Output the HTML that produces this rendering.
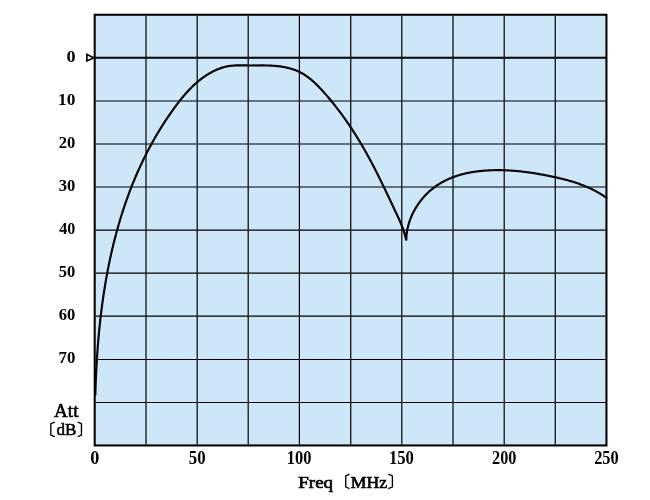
<!DOCTYPE html>
<html><head><meta charset="utf-8"><style>
html,body{margin:0;padding:0;background:#fff;width:650px;height:500px;overflow:hidden}
svg{display:block;will-change:transform}
text{font-family:"Liberation Serif",serif;font-size:18px;fill:#000}
</style></head><body>
<svg width="650" height="500" viewBox="0 0 650 500">
<rect x="94.7" y="14.75" width="511.75" height="430.70" fill="#CDE6F8"/>
<g stroke="#000" stroke-width="1.2" fill="none">
<line x1="146.00" y1="15.75" x2="146.00" y2="444.45"/>
<line x1="197.20" y1="15.75" x2="197.20" y2="444.45"/>
<line x1="248.20" y1="15.75" x2="248.20" y2="444.45"/>
<line x1="299.40" y1="15.75" x2="299.40" y2="444.45"/>
<line x1="350.75" y1="15.75" x2="350.75" y2="444.45"/>
<line x1="401.80" y1="15.75" x2="401.80" y2="444.45"/>
<line x1="453.00" y1="15.75" x2="453.00" y2="444.45"/>
<line x1="504.20" y1="15.75" x2="504.20" y2="444.45"/>
<line x1="555.25" y1="15.75" x2="555.25" y2="444.45"/>
<line x1="95.70" y1="101.00" x2="605.45" y2="101.00"/>
<line x1="95.70" y1="144.00" x2="605.45" y2="144.00"/>
<line x1="95.70" y1="187.00" x2="605.45" y2="187.00"/>
<line x1="95.70" y1="230.20" x2="605.45" y2="230.20"/>
<line x1="95.70" y1="273.20" x2="605.45" y2="273.20"/>
<line x1="95.70" y1="316.20" x2="605.45" y2="316.20"/>
<line x1="95.70" y1="359.50" x2="605.45" y2="359.50"/>
<line x1="95.70" y1="402.50" x2="605.45" y2="402.50"/>
</g>
<line x1="94.7" y1="57.75" x2="606.45" y2="57.75" stroke="#000" stroke-width="2.0"/>
<rect x="94.7" y="14.75" width="511.75" height="430.70" fill="none" stroke="#000" stroke-width="2.05"/>
<path d="M95.32,394.82 L95.34,394.01 L95.36,393.21 L95.39,392.41 L95.41,391.61 L95.44,390.80 L95.46,390.00 L95.49,389.20 L95.51,388.39 L95.54,387.59 L95.57,386.78 L95.59,385.98 L95.62,385.17 L95.65,384.37 L95.68,383.56 L95.71,382.76 L95.74,381.95 L95.78,381.15 L95.81,380.34 L95.84,379.54 L95.88,378.73 L95.91,377.93 L95.94,377.12 L95.98,376.31 L96.02,375.51 L96.05,374.70 L96.09,373.89 L96.13,373.09 L96.17,372.28 L96.21,371.47 L96.25,370.66 L96.29,369.86 L96.33,369.05 L96.37,368.24 L96.42,367.43 L96.46,366.62 L96.50,365.82 L96.55,365.01 L96.60,364.20 L96.64,363.39 L96.69,362.58 L96.74,361.77 L96.79,360.97 L96.84,360.16 L96.89,359.35 L96.94,358.54 L96.99,357.73 L97.04,356.92 L97.09,356.11 L97.15,355.30 L97.20,354.49 L97.26,353.68 L97.31,352.87 L97.37,352.06 L97.43,351.26 L97.49,350.45 L97.55,349.64 L97.61,348.83 L97.67,348.02 L97.73,347.21 L97.79,346.40 L97.86,345.59 L97.92,344.78 L97.98,343.97 L98.05,343.16 L98.12,342.35 L98.18,341.54 L98.25,340.73 L98.32,339.92 L98.39,339.11 L98.46,338.30 L98.53,337.49 L98.60,336.68 L98.68,335.87 L98.75,335.06 L98.83,334.25 L98.90,333.44 L98.98,332.63 L99.06,331.82 L99.13,331.01 L99.21,330.20 L99.29,329.39 L99.37,328.58 L99.45,327.77 L99.54,326.96 L99.62,326.15 L99.70,325.34 L99.79,324.53 L99.88,323.72 L99.96,322.91 L100.05,322.10 L100.14,321.29 L100.23,320.48 L100.32,319.67 L100.41,318.87 L100.50,318.06 L100.60,317.25 L100.69,316.44 L100.79,315.63 L100.88,314.82 L100.98,314.01 L101.08,313.20 L101.18,312.40 L101.28,311.59 L101.38,310.78 L101.48,309.97 L101.58,309.16 L101.68,308.36 L101.79,307.55 L101.89,306.74 L102.00,305.93 L102.11,305.12 L102.22,304.32 L102.33,303.51 L102.44,302.70 L102.55,301.90 L102.66,301.09 L102.77,300.28 L102.89,299.48 L103.00,298.67 L103.12,297.86 L103.24,297.06 L103.36,296.25 L103.48,295.45 L103.60,294.64 L103.72,293.84 L103.84,293.03 L103.96,292.23 L104.09,291.42 L104.21,290.62 L104.34,289.81 L104.47,289.01 L104.60,288.20 L104.73,287.40 L104.86,286.60 L104.99,285.79 L105.12,284.99 L105.26,284.19 L105.39,283.38 L105.53,282.58 L105.66,281.78 L105.80,280.98 L105.94,280.17 L106.08,279.37 L106.22,278.57 L106.37,277.77 L106.51,276.97 L106.66,276.17 L106.80,275.37 L106.95,274.57 L107.10,273.77 L107.25,272.97 L107.40,272.17 L107.55,271.37 L107.70,270.57 L107.86,269.77 L108.01,268.97 L108.17,268.17 L108.32,267.37 L108.48,266.58 L108.64,265.78 L108.80,264.98 L108.97,264.18 L109.13,263.39 L109.29,262.59 L109.46,261.80 L109.62,261.00 L109.79,260.20 L109.96,259.41 L110.13,258.61 L110.30,257.82 L110.48,257.03 L110.65,256.23 L110.82,255.44 L111.00,254.65 L111.18,253.85 L111.36,253.06 L111.54,252.27 L111.72,251.48 L111.90,250.68 L112.08,249.89 L112.27,249.10 L112.45,248.31 L112.64,247.52 L112.83,246.73 L113.02,245.94 L113.21,245.15 L113.40,244.36 L113.59,243.57 L113.79,242.79 L113.98,242.00 L114.18,241.21 L114.38,240.42 L114.58,239.64 L114.78,238.85 L114.98,238.07 L115.19,237.28 L115.39,236.50 L115.60,235.71 L115.80,234.93 L116.01,234.14 L116.22,233.36 L116.43,232.58 L116.65,231.79 L116.86,231.01 L117.07,230.23 L117.29,229.45 L117.51,228.67 L117.73,227.89 L117.95,227.11 L118.17,226.33 L118.39,225.55 L118.62,224.77 L118.84,223.99 L119.07,223.21 L119.30,222.44 L119.53,221.66 L119.76,220.88 L119.99,220.11 L120.23,219.33 L120.46,218.56 L120.70,217.78 L120.94,217.01 L121.18,216.23 L121.42,215.46 L121.66,214.69 L121.90,213.92 L122.15,213.14 L122.39,212.37 L122.64,211.60 L122.89,210.83 L123.14,210.06 L123.39,209.29 L123.65,208.52 L123.90,207.76 L124.16,206.99 L124.42,206.22 L124.67,205.45 L124.93,204.69 L125.20,203.92 L125.46,203.16 L125.72,202.39 L125.99,201.63 L126.26,200.87 L126.53,200.10 L126.80,199.34 L127.07,198.58 L127.34,197.82 L127.62,197.06 L127.90,196.30 L128.17,195.54 L128.45,194.78 L128.73,194.02 L129.02,193.26 L129.30,192.50 L129.59,191.75 L129.87,190.99 L130.16,190.23 L130.45,189.48 L130.74,188.72 L131.04,187.97 L131.33,187.22 L131.63,186.46 L131.92,185.71 L132.22,184.96 L132.52,184.21 L132.82,183.46 L133.13,182.71 L133.43,181.96 L133.74,181.21 L134.05,180.47 L134.36,179.72 L134.67,178.97 L134.98,178.23 L135.30,177.48 L135.61,176.74 L135.93,175.99 L136.25,175.25 L136.57,174.51 L136.89,173.76 L137.22,173.02 L137.54,172.28 L137.87,171.54 L138.20,170.80 L138.53,170.06 L138.86,169.32 L139.19,168.59 L139.53,167.85 L139.87,167.11 L140.20,166.38 L140.54,165.64 L140.89,164.91 L141.23,164.18 L141.57,163.44 L141.92,162.71 L142.27,161.98 L142.62,161.25 L142.97,160.52 L143.32,159.79 L143.68,159.06 L144.03,158.33 L144.39,157.61 L144.75,156.88 L145.11,156.16 L145.47,155.43 L145.84,154.71 L146.21,153.98 L146.57,153.26 L146.94,152.54 L147.31,151.82 L147.69,151.10 L148.06,150.38 L148.44,149.66 L148.82,148.94 L149.20,148.23 L149.58,147.51 L149.96,146.79 L150.35,146.08 L150.73,145.37 L151.12,144.65 L151.51,143.94 L151.90,143.23 L152.29,142.52 L152.69,141.81 L153.09,141.10 L153.48,140.39 L153.88,139.69 L154.28,138.98 L154.69,138.28 L155.09,137.57 L155.50,136.87 L155.91,136.17 L156.32,135.46 L156.73,134.76 L157.14,134.06 L157.56,133.36 L157.98,132.67 L158.39,131.97 L158.81,131.27 L159.24,130.58 L159.66,129.89 L160.08,129.19 L160.51,128.50 L160.94,127.81 L161.37,127.12 L161.80,126.43 L162.24,125.74 L162.67,125.05 L163.11,124.37 L163.55,123.68 L163.99,123.00 L164.43,122.32 L164.88,121.63 L165.32,120.95 L165.77,120.27 L166.22,119.59 L166.67,118.92 L167.13,118.24 L167.58,117.56 L168.04,116.89 L168.50,116.22 L168.96,115.54 L169.42,114.87 L169.88,114.20 L170.35,113.53 L170.81,112.87 L171.28,112.20 L171.75,111.53 L172.22,110.87 L172.70,110.20 L173.17,109.54 L173.65,108.88 L174.13,108.22 L174.61,107.56 L175.10,106.90 L175.58,106.25 L176.07,105.59 L176.56,104.94 L177.05,104.29 L177.54,103.64 L178.03,102.99 L178.53,102.34 L179.03,101.70 L179.53,101.06 L180.04,100.42 L180.54,99.78 L181.05,99.14 L181.57,98.51 L182.08,97.88 L182.60,97.25 L183.12,96.63 L183.64,96.01 L184.17,95.39 L184.70,94.77 L185.23,94.16 L185.76,93.55 L186.30,92.94 L186.84,92.34 L187.39,91.74 L187.93,91.15 L188.48,90.55 L189.04,89.96 L189.60,89.38 L190.16,88.80 L190.72,88.22 L191.29,87.65 L191.86,87.08 L192.44,86.52 L193.02,85.96 L193.61,85.40 L194.19,84.85 L194.79,84.31 L195.38,83.77 L195.98,83.23 L196.59,82.70 L197.19,82.17 L197.81,81.65 L198.42,81.14 L199.05,80.63 L199.67,80.12 L200.30,79.63 L200.94,79.13 L201.58,78.64 L202.22,78.16 L202.87,77.69 L203.53,77.22 L204.19,76.75 L204.85,76.30 L205.52,75.84 L206.20,75.40 L206.88,74.96 L207.56,74.53 L208.25,74.10 L208.95,73.69 L209.65,73.27 L210.35,72.87 L211.06,72.47 L211.78,72.08 L212.50,71.70 L213.23,71.33 L213.96,70.96 L214.69,70.61 L215.43,70.26 L216.18,69.93 L216.92,69.60 L217.68,69.29 L218.43,68.98 L219.19,68.69 L219.95,68.40 L220.72,68.13 L221.49,67.87 L222.26,67.62 L223.04,67.39 L223.82,67.17 L224.60,66.96 L225.39,66.76 L226.18,66.58 L226.97,66.41 L227.76,66.25 L228.56,66.11 L229.35,65.99 L230.15,65.88 L230.96,65.78 L231.76,65.70 L232.56,65.63 L233.37,65.57 L234.18,65.52 L234.99,65.48 L235.80,65.44 L236.61,65.42 L237.42,65.40 L238.24,65.39 L239.05,65.38 L239.86,65.38 L240.68,65.38 L241.49,65.39 L242.31,65.40 L243.12,65.40 L243.93,65.41 L244.75,65.42 L245.56,65.43 L246.38,65.44 L247.19,65.44 L248.00,65.45 L248.81,65.46 L249.63,65.47 L262.06,65.43 L262.70,65.43 L263.34,65.43 L263.99,65.44 L264.63,65.44 L265.27,65.45 L265.92,65.46 L266.56,65.48 L267.21,65.49 L267.85,65.51 L268.49,65.53 L269.14,65.55 L269.78,65.58 L270.43,65.60 L271.07,65.63 L271.72,65.67 L272.36,65.70 L273.00,65.74 L273.65,65.79 L274.29,65.84 L274.94,65.89 L275.58,65.94 L276.23,66.00 L276.87,66.06 L277.52,66.13 L278.16,66.20 L278.81,66.28 L279.45,66.36 L280.09,66.44 L280.73,66.53 L281.38,66.63 L282.02,66.73 L282.66,66.83 L283.30,66.94 L283.93,67.05 L284.57,67.17 L285.20,67.30 L285.84,67.43 L286.47,67.56 L287.10,67.70 L287.73,67.85 L288.35,68.00 L288.98,68.16 L289.60,68.32 L290.22,68.49 L290.83,68.67 L291.45,68.85 L292.06,69.03 L292.67,69.23 L293.28,69.43 L293.88,69.64 L294.48,69.85 L295.07,70.07 L295.67,70.30 L296.26,70.53 L296.84,70.77 L297.43,71.02 L298.01,71.27 L298.58,71.53 L299.15,71.80 L299.72,72.08 L300.28,72.36 L300.84,72.65 L301.39,72.95 L301.94,73.25 L302.49,73.56 L303.03,73.88 L303.57,74.20 L304.11,74.53 L304.64,74.87 L305.17,75.21 L305.69,75.56 L306.21,75.92 L306.73,76.28 L307.24,76.64 L307.75,77.01 L308.26,77.39 L308.77,77.77 L309.27,78.16 L309.77,78.55 L310.26,78.95 L310.75,79.35 L311.24,79.76 L311.73,80.17 L312.21,80.58 L312.69,81.00 L313.17,81.42 L313.65,81.85 L314.12,82.28 L314.59,82.72 L315.06,83.15 L315.52,83.59 L315.98,84.04 L316.45,84.49 L316.90,84.94 L317.36,85.39 L317.81,85.85 L318.27,86.31 L318.72,86.77 L319.17,87.23 L319.61,87.70 L320.06,88.17 L320.50,88.64 L320.94,89.11 L321.38,89.58 L321.82,90.06 L322.25,90.54 L322.69,91.01 L323.12,91.49 L323.56,91.97 L323.99,92.46 L324.42,92.94 L324.84,93.42 L325.27,93.91 L325.70,94.39 L326.12,94.88 L326.55,95.36 L326.97,95.85 L327.39,96.34 L327.81,96.83 L328.23,97.32 L328.64,97.81 L329.06,98.30 L329.48,98.80 L329.89,99.29 L330.30,99.78 L330.71,100.28 L331.12,100.78 L331.53,101.27 L331.94,101.77 L332.35,102.27 L332.75,102.77 L333.16,103.27 L333.56,103.77 L333.96,104.27 L334.36,104.77 L334.76,105.28 L335.16,105.78 L335.56,106.29 L335.95,106.79 L336.35,107.30 L336.74,107.81 L337.13,108.31 L337.53,108.82 L337.92,109.33 L338.31,109.84 L338.69,110.35 L339.08,110.87 L339.47,111.38 L339.85,111.89 L340.24,112.41 L340.62,112.92 L341.00,113.44 L341.38,113.95 L341.76,114.47 L342.14,114.99 L342.52,115.51 L342.89,116.03 L343.27,116.55 L343.64,117.07 L344.02,117.59 L344.39,118.11 L344.76,118.63 L345.13,119.16 L345.50,119.68 L345.87,120.20 L346.23,120.73 L346.60,121.26 L346.97,121.78 L347.33,122.31 L347.69,122.84 L348.05,123.37 L348.42,123.90 L348.78,124.43 L349.13,124.96 L349.49,125.49 L349.85,126.02 L350.21,126.55 L350.56,127.09 L350.91,127.62 L351.27,128.16 L351.62,128.69 L351.97,129.23 L352.32,129.76 L352.67,130.30 L353.02,130.84 L353.37,131.38 L353.71,131.92 L354.06,132.46 L354.40,133.00 L354.75,133.54 L355.09,134.08 L355.43,134.62 L355.77,135.16 L356.11,135.71 L356.45,136.25 L356.79,136.80 L357.13,137.34 L357.46,137.89 L357.80,138.43 L358.13,138.98 L358.47,139.53 L358.80,140.07 L359.13,140.62 L359.46,141.17 L359.79,141.72 L360.12,142.27 L360.45,142.82 L360.78,143.37 L361.11,143.92 L361.43,144.47 L361.76,145.03 L362.08,145.58 L362.41,146.13 L362.73,146.69 L363.05,147.24 L363.37,147.80 L363.69,148.35 L364.01,148.91 L364.33,149.47 L364.65,150.02 L364.97,150.58 L365.28,151.14 L365.60,151.70 L365.91,152.26 L366.23,152.81 L366.54,153.37 L366.85,153.93 L367.17,154.50 L367.48,155.06 L367.79,155.62 L368.10,156.18 L368.40,156.74 L368.71,157.31 L369.02,157.87 L369.33,158.43 L369.63,159.00 L369.94,159.56 L370.24,160.13 L370.55,160.69 L370.85,161.26 L371.15,161.83 L371.45,162.39 L371.75,162.96 L372.05,163.53 L372.35,164.10 L372.65,164.66 L372.95,165.23 L373.25,165.80 L373.54,166.37 L373.84,166.94 L374.14,167.51 L374.43,168.08 L374.72,168.65 L375.02,169.23 L375.31,169.80 L375.60,170.37 L375.90,170.94 L376.19,171.51 L376.48,172.09 L376.77,172.66 L377.06,173.23 L377.35,173.81 L377.64,174.38 L377.92,174.96 L378.21,175.53 L378.50,176.11 L378.79,176.68 L379.07,177.26 L379.36,177.83 L379.64,178.41 L379.93,178.98 L380.21,179.56 L380.50,180.14 L380.78,180.71 L381.06,181.29 L381.35,181.87 L381.63,182.44 L381.91,183.02 L382.19,183.60 L382.47,184.18 L382.75,184.76 L383.03,185.33 L383.31,185.91 L383.59,186.49 L383.87,187.07 L384.15,187.65 L384.43,188.23 L384.71,188.81 L384.99,189.39 L385.26,189.97 L385.54,190.54 L385.82,191.12 L386.09,191.70 L386.37,192.28 L386.65,192.86 L386.92,193.44 L387.20,194.02 L387.48,194.60 L387.75,195.18 L388.03,195.76 L388.30,196.34 L388.58,196.93 L388.85,197.51 L389.13,198.09 L389.40,198.67 L389.67,199.25 L389.95,199.83 L390.22,200.41 L390.49,200.99 L390.77,201.57 L391.04,202.15 L391.32,202.73 L391.59,203.31 L391.86,203.89 L392.13,204.47 L392.41,205.05 L392.68,205.63 L392.95,206.21 L393.23,206.79 L393.50,207.37 L393.77,207.95 L394.04,208.53 L394.32,209.11 L394.59,209.69 L394.86,210.27 L395.13,210.85 L395.41,211.43 L395.68,212.01 L395.95,212.59 L396.22,213.17 L396.50,213.75 L396.77,214.33 L397.04,214.91 L397.31,215.49 L397.58,216.07 L397.85,216.65 L398.12,217.23 L398.38,217.81 L398.65,218.39 L398.91,218.97 L399.18,219.56 L399.44,220.14 L399.69,220.72 L399.95,221.31 L400.20,221.89 L400.46,222.48 L400.71,223.07 L400.95,223.65 L401.20,224.24 L401.44,224.83 L401.68,225.43 L401.91,226.02 L402.14,226.61 L402.37,227.21 L402.60,227.80 L402.82,228.40 L403.04,229.00 L403.25,229.60 L403.46,230.20 L403.67,230.81 L403.87,231.42 L404.06,232.02 L404.26,232.63 L404.44,233.24 L404.63,233.86 L404.80,234.47 L404.98,235.09 L405.14,235.71 L405.30,236.33 L405.46,236.96 L405.61,237.58 L405.75,238.21 L405.89,238.84 L406.03,239.48 L406.30,239.65 L406.31,238.84 L406.34,238.03 L406.39,237.22 L406.44,236.41 L406.50,235.60 L406.58,234.80 L406.67,233.99 L406.77,233.19 L406.87,232.39 L407.00,231.59 L407.13,230.79 L407.27,229.99 L407.42,229.20 L407.59,228.40 L407.76,227.61 L407.94,226.82 L408.14,226.04 L408.34,225.25 L408.56,224.47 L408.78,223.69 L409.02,222.91 L409.26,222.14 L409.52,221.37 L409.78,220.60 L410.06,219.83 L410.34,219.07 L410.63,218.31 L410.94,217.55 L411.25,216.80 L411.57,216.05 L411.90,215.31 L412.24,214.57 L412.58,213.83 L412.94,213.09 L413.31,212.36 L413.68,211.64 L414.06,210.92 L414.45,210.20 L414.85,209.49 L415.26,208.78 L415.67,208.07 L416.10,207.37 L416.53,206.68 L416.96,205.99 L417.41,205.31 L417.87,204.63 L418.33,203.95 L418.80,203.28 L419.27,202.62 L419.76,201.96 L420.25,201.31 L420.75,200.66 L421.25,200.02 L421.76,199.38 L422.28,198.76 L422.81,198.13 L423.34,197.52 L423.88,196.90 L424.42,196.30 L424.97,195.70 L425.53,195.11 L426.10,194.53 L426.67,193.95 L427.24,193.38 L427.82,192.81 L428.41,192.26 L429.00,191.71 L429.60,191.16 L430.21,190.63 L430.82,190.10 L431.43,189.58 L432.05,189.07 L432.68,188.56 L433.31,188.07 L433.94,187.58 L434.58,187.10 L435.23,186.62 L435.88,186.16 L436.53,185.70 L437.19,185.26 L437.86,184.81 L438.52,184.38 L439.20,183.96 L439.87,183.54 L440.55,183.13 L441.24,182.73 L441.93,182.34 L442.62,181.95 L443.32,181.57 L444.02,181.20 L444.72,180.84 L445.43,180.48 L446.14,180.13 L446.86,179.79 L447.58,179.46 L448.30,179.13 L449.03,178.81 L449.76,178.49 L450.49,178.19 L451.23,177.89 L451.97,177.59 L452.71,177.31 L453.45,177.03 L454.20,176.75 L454.95,176.49 L455.71,176.23 L456.47,175.97 L457.23,175.73 L457.99,175.49 L458.75,175.25 L459.52,175.02 L460.29,174.80 L461.06,174.58 L461.84,174.37 L462.61,174.17 L463.39,173.97 L464.17,173.78 L464.96,173.59 L465.74,173.41 L466.53,173.23 L467.32,173.06 L468.11,172.90 L468.90,172.74 L469.70,172.59 L470.49,172.44 L471.29,172.30 L472.09,172.16 L472.89,172.03 L473.69,171.90 L474.49,171.78 L475.30,171.66 L476.10,171.55 L476.91,171.44 L477.72,171.34 L478.52,171.24 L479.33,171.14 L480.14,171.06 L480.95,170.97 L481.76,170.89 L482.58,170.82 L483.39,170.75 L484.20,170.68 L485.01,170.62 L485.83,170.56 L486.64,170.51 L487.45,170.46 L488.27,170.41 L489.08,170.37 L489.90,170.33 L490.71,170.30 L491.53,170.27 L492.34,170.24 L493.15,170.22 L493.97,170.20 L494.78,170.18 L495.59,170.17 L496.41,170.16 L497.22,170.16 L498.03,170.16 L498.84,170.16 L499.66,170.17 L500.47,170.18 L501.28,170.19 L502.09,170.21 L502.90,170.23 L503.72,170.25 L504.53,170.27 L505.34,170.30 L506.15,170.34 L506.96,170.37 L507.77,170.41 L508.58,170.45 L509.39,170.50 L510.20,170.55 L511.01,170.60 L511.82,170.65 L512.63,170.71 L513.44,170.77 L514.25,170.83 L515.05,170.90 L515.86,170.97 L516.67,171.04 L517.48,171.12 L518.28,171.19 L519.09,171.27 L519.90,171.36 L520.70,171.44 L521.51,171.53 L522.31,171.62 L523.12,171.71 L523.92,171.81 L524.73,171.91 L525.53,172.01 L526.34,172.11 L527.14,172.22 L527.94,172.32 L528.75,172.43 L529.55,172.55 L530.35,172.66 L531.15,172.78 L531.96,172.90 L532.76,173.02 L533.56,173.14 L534.36,173.27 L535.16,173.40 L535.96,173.53 L536.76,173.66 L537.56,173.79 L538.35,173.93 L539.15,174.07 L539.95,174.21 L540.75,174.35 L541.54,174.49 L542.34,174.64 L543.14,174.78 L543.93,174.93 L544.73,175.08 L545.52,175.24 L546.32,175.39 L547.11,175.55 L547.90,175.70 L548.70,175.86 L549.49,176.02 L550.28,176.18 L551.07,176.35 L551.86,176.51 L552.65,176.68 L553.44,176.85 L554.23,177.02 L555.02,177.19 L555.81,177.36 L556.59,177.54 L557.38,177.72 L558.17,177.90 L558.95,178.08 L559.74,178.26 L560.52,178.45 L561.30,178.64 L562.08,178.83 L562.86,179.03 L563.64,179.22 L564.42,179.42 L565.20,179.63 L565.98,179.83 L566.75,180.04 L567.53,180.25 L568.30,180.47 L569.08,180.69 L569.85,180.91 L570.62,181.13 L571.39,181.36 L572.15,181.59 L572.92,181.83 L573.69,182.07 L574.45,182.31 L575.21,182.56 L575.98,182.81 L576.74,183.06 L577.50,183.32 L578.25,183.58 L579.01,183.85 L579.76,184.12 L580.52,184.39 L581.27,184.67 L582.02,184.96 L582.77,185.25 L583.52,185.54 L584.26,185.84 L585.00,186.14 L585.75,186.45 L586.49,186.76 L587.23,187.08 L587.96,187.40 L588.70,187.73 L589.43,188.06 L590.16,188.39 L590.89,188.74 L591.62,189.09 L592.35,189.44 L593.07,189.80 L593.79,190.16 L594.51,190.53 L595.23,190.91 L595.94,191.29 L596.66,191.68 L597.37,192.08 L598.08,192.48 L598.79,192.88 L599.49,193.30 L600.20,193.71 L600.90,194.14 L601.59,194.57 L602.29,195.01 L602.98,195.45 L603.68,195.90 L604.37,196.36 L605.05,196.83 L605.74,197.30 L606.42,197.78" fill="none" stroke="#000" stroke-width="2.15" stroke-linejoin="round" stroke-linecap="round"/>
<path d="M86.9,54.4 L93.8,57.7 L86.9,61.0 Z" fill="none" stroke="#000" stroke-width="1.65" stroke-linejoin="miter"/>
<g stroke="#000" stroke-width="1.35" fill="none" stroke-linejoin="round">
<path d="M349.60,474.20 L345.75,475.90 L345.75,487.00 L349.60,488.70"/>
<path d="M388.30,474.20 L392.40,475.90 L392.40,487.00 L388.30,488.70"/>
<path d="M54.80,422.20 L50.85,423.70 L50.85,435.20 L54.80,436.70"/>
<path d="M77.70,422.20 L81.45,423.70 L81.45,435.20 L77.70,436.70"/>
</g>
<text transform="translate(66.44 61.51) scale(1.0133 0.9796)" font-weight="bold">0</text>
<text transform="translate(58.05 104.76) scale(0.9651 0.9796)" font-weight="bold">10</text>
<text transform="translate(58.81 147.76) scale(0.9212 0.9796)" font-weight="bold">20</text>
<text transform="translate(58.81 190.76) scale(0.9212 0.9796)" font-weight="bold">30</text>
<text transform="translate(59.28 233.96) scale(0.8941 0.9796)" font-weight="bold">40</text>
<text transform="translate(58.81 276.96) scale(0.9212 0.9796)" font-weight="bold">50</text>
<text transform="translate(58.81 319.96) scale(0.9212 0.9796)" font-weight="bold">60</text>
<text transform="translate(58.56 363.26) scale(0.9354 0.9796)" font-weight="bold">70</text>
<text transform="translate(90.14 464.15) scale(1.0133 1.0122)" font-weight="bold">0</text>
<text transform="translate(188.80 464.15) scale(0.9333 1.0122)" font-weight="bold">50</text>
<text transform="translate(286.73 464.15) scale(0.9131 1.0122)" font-weight="bold">100</text>
<text transform="translate(389.02 464.15) scale(0.9212 1.0122)" font-weight="bold">150</text>
<text transform="translate(492.02 464.15) scale(0.9020 1.0122)" font-weight="bold">200</text>
<text transform="translate(594.17 464.15) scale(0.9098 1.0122)" font-weight="bold">250</text>
<text transform="translate(298.22 488.00) scale(1.0574 0.9489)" font-weight="normal" stroke="#000" stroke-width="0.70">Freq</text>
<text transform="translate(350.76 487.70) scale(0.9806 0.9660)" font-weight="normal" stroke="#000" stroke-width="0.70">MHz</text>
<text transform="translate(54.03 416.59) scale(1.0637 1.0464)" font-weight="normal" stroke="#000" stroke-width="0.55">Att</text>
<text transform="translate(56.39 435.46) scale(0.9506 0.9569)" font-weight="normal" stroke="#000" stroke-width="0.55">dB</text>
</svg>
</body></html>
